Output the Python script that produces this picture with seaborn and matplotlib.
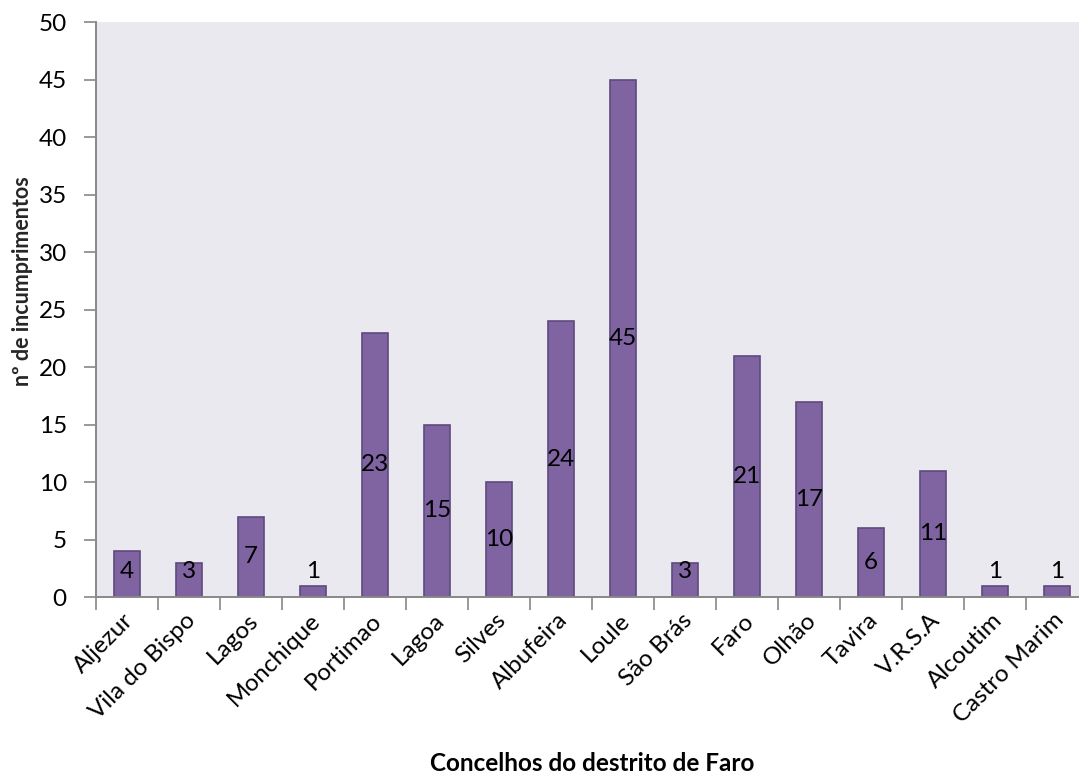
import matplotlib
matplotlib.use("Agg")
import matplotlib.pyplot as plt
import matplotlib.transforms as mtransforms
import seaborn as sns
import pandas as pd
from matplotlib.ticker import FixedLocator, MultipleLocator

concelhos = ["Aljezur", "Vila do Bispo", "Lagos", "Monchique", "Portimao", "Lagoa",
             "Silves", "Albufeira", "Loule", "São Brás", "Faro", "Olhão", "Tavira",
             "V.R.S.A", "Alcoutim", "Castro Marim"]
incumprimentos = [4, 3, 7, 1, 23, 15, 10, 24, 45, 3, 21, 17, 6, 11, 1, 1]

df = pd.DataFrame({"concelho": concelhos, "n": incumprimentos})

sns.set_theme(style="white")
plt.rcParams["font.family"] = ["Lato", "DejaVu Sans"]

FS = 17.5

fig = plt.figure(figsize=(10.79, 7.78), dpi=100)
# plot area runs slightly past the right edge of the canvas
ax = fig.add_axes([0.089, 0.2326, 0.9194, 0.7391])
ax.set_facecolor("#EBE9F0")

sns.barplot(data=df, x="concelho", y="n", color="#8064A2", saturation=1,
            width=0.42, edgecolor="#5E4A7E", linewidth=1.2, ax=ax)

# value labels centred in each bar, lifted above very short bars
for i, v in enumerate(incumprimentos):
    ypos = max(v / 2, 2.2)
    ax.text(i, ypos, str(v), ha="center", va="center", fontsize=FS, color="black")

ax.set_xlim(-0.5, len(concelhos) - 0.5)
ax.set_ylim(0, 50)
ax.yaxis.set_major_locator(MultipleLocator(5))
ax.tick_params(axis="y", labelsize=FS, length=9, width=1.2, color="#888888",
               direction="out", left=True, pad=12, labelcolor="black")

ax.set_xticks(range(len(concelhos)))
ax.set_xticklabels(concelhos, rotation=45, ha="right", rotation_mode="anchor",
                   fontsize=FS, color="black")
ax.tick_params(axis="x", which="major", length=0, pad=14)
shift = mtransforms.ScaledTranslation(-4 / 100, 7 / 100, fig.dpi_scale_trans)
for lbl in ax.get_xticklabels():
    lbl.set_transform(lbl.get_transform() + shift)
ax.xaxis.set_minor_locator(FixedLocator([i - 0.5 for i in range(len(concelhos) + 1)]))
ax.tick_params(axis="x", which="minor", length=9, width=1.2, color="#888888",
               direction="out", bottom=True)

for side in ["top", "right"]:
    ax.spines[side].set_visible(False)
for side in ["left", "bottom"]:
    ax.spines[side].set_color("#888888")
    ax.spines[side].set_linewidth(1.4)

ax.set_ylabel("nº de incumprimentos", fontsize=15.5, fontweight="bold")
ax.yaxis.set_label_coords(-0.0635, 0.55)
ax.set_xlabel("")
ax.text(0.5, -0.29, "Concelhos do destrito de Faro", transform=ax.transAxes,
        ha="center", va="center", fontsize=17.5, fontweight="bold", color="black")

fig.savefig("out.png", dpi=100, facecolor="white")
